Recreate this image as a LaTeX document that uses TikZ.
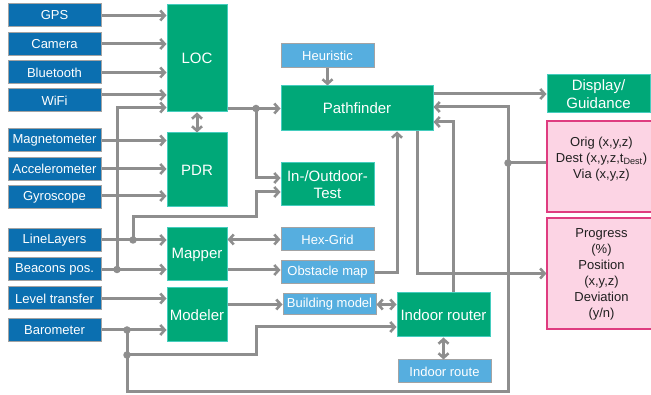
\documentclass[tikz,border=0pt]{standalone}
\usepackage{fontspec}
\setmainfont{Liberation Sans}
\usetikzlibrary{arrows.meta}
\definecolor{dblue}{HTML}{0B6FB0}
\definecolor{lblue}{HTML}{56AEDF}
\definecolor{grn}{HTML}{00A878}
\definecolor{grnb}{HTML}{45CDBE}
\definecolor{pinkf}{HTML}{FCD4E4}
\definecolor{pinkb}{HTML}{DF3C80}
\definecolor{lgray}{HTML}{8E8E8E}
\definecolor{bgray}{HTML}{A3A3A3}
\tikzset{
  base/.style={inner sep=0pt, align=center, text=white},
  dbox/.style={base, fill=dblue, draw=bgray, line width=1pt, minimum width=93pt, minimum height=23pt, font=\fontsize{13}{16}\selectfont},
  lbox/.style={base, fill=lblue, draw=bgray, line width=1pt, minimum width=93pt, minimum height=23pt, font=\fontsize{13}{16}\selectfont},
  gbox/.style={base, fill=grn, draw=grnb, line width=1pt, font=\fontsize{15}{17.5}\selectfont},
  pbox/.style={inner sep=0pt, fill=pinkf, draw=pinkb, line width=1.2pt},
  ptext/.style={inner sep=0pt, align=center, text=black!88, font=\fontsize{13}{16}\selectfont},
  conn/.style={draw=lgray, line width=3pt},
  arr/.style={conn, -{Straight Barb[length=4.5pt,width=10pt,line width=2.6pt]}},
  darr/.style={conn, {Straight Barb[length=4.5pt,width=10pt,line width=2.6pt]}-{Straight Barb[length=4.5pt,width=10pt,line width=2.6pt]}},
  jdot/.style={circle, fill=lgray, inner sep=0pt, minimum size=7.5pt},
}
\begin{document}
\begin{tikzpicture}[x=1pt,y=-1pt]
\useasboundingbox (0,0) rectangle (651,395);
\fill[white] (0,0) rectangle (651,395);
% left inputs
\node[dbox] (gps) at (54.5,15.5) {GPS};
\node[dbox] (cam) at (54.5,44) {Camera};
\node[dbox] (bt) at (54.5,72.5) {Bluetooth};
\node[dbox] (wifi) at (54.5,100.5) {WiFi};
\node[dbox] (mag) at (54.5,140.5) {Magnetometer};
\node[dbox] (acc) at (54.5,169) {Accelerometer};
\node[dbox] (gyr) at (54.5,197.5) {Gyroscope};
\node[dbox] (ll) at (54.5,240) {LineLayers};
\node[dbox] (bea) at (54.5,269.5) {Beacons pos.};
\node[dbox] (lev) at (54.5,298.5) {Level transfer};
\node[dbox] (bar) at (54.5,330) {Barometer};
% green
\node[gbox, minimum width=60pt, minimum height=107pt] (loc) at (197,58.5) {LOC};
\node[gbox, minimum width=60pt, minimum height=74pt] (pdr) at (197,170) {PDR};
\node[gbox, minimum width=60pt, minimum height=53pt] (map) at (197,254.5) {Mapper};
\node[gbox, minimum width=60pt, minimum height=54pt] (mod) at (197,315) {Modeler};
\node[gbox, minimum width=152pt, minimum height=45pt] (pf) at (357,108.5) {Pathfinder};
\node[gbox, minimum width=93pt, minimum height=43pt] (io) at (327.5,184.5) {In-/Outdoor-\\Test};
\node[gbox, minimum width=93pt, minimum height=44pt] (ir) at (443.5,315) {Indoor router};
\node[gbox, minimum width=103pt, minimum height=38pt] (disp) at (598.5,94) {Display/\\Guidance};
% light blue
\node[lbox, minimum height=24pt] (heu) at (327.5,56) {Heuristic};
\node[lbox] (hex) at (327.5,239.5) {Hex-Grid};
\node[lbox] (obs) at (327.5,272.5) {Obstacle map};
\node[lbox, minimum height=21pt] (bld) at (329.5,304.5) {Building model};
\node[lbox] (iroute) at (444.5,371.5) {Indoor route};
% pink
\node[pbox, minimum width=109pt, minimum height=91pt] (p1) at (601.5,166.5) {};
\node[ptext] (p1t) at (601.5,159) {Orig (x,y,z)\\Dest (x,y,z,t\textsubscript{Dest})\\Via (x,y,z)};
\node[pbox, minimum width=109pt, minimum height=111pt] (p2) at (601.5,273.5) {};
\node[ptext] (p2t) at (601.5,274.5) {Progress\\(\%)\\Position\\(x,y,z)\\Deviation\\(y/n)};
% junctions
\node[jdot] (jl) at (256,108.5) {};
\node[jdot] (jbea) at (117,269.5) {};
\node[jdot] (jll) at (133,240) {};
\node[jdot] (jb2) at (127,330) {};
\node[jdot] (jb3) at (127,355) {};
\node[jdot] (jp) at (508,163) {};
\coordinate (k1) at (256,327);
\coordinate (k2) at (508,392);
% connectors
\draw[arr] (gps.east) -- (gps.east -| loc.west);
\draw[arr] (cam.east) -- (cam.east -| loc.west);
\draw[arr] (bt.east) -- (bt.east -| loc.west);
\draw[arr] ([yshift=5.5pt]wifi.east) -- ([yshift=5.5pt]wifi.east -| loc.west);
\draw[arr] (bea.east) -- (bea.east -| map.west);
\draw[arr] (jbea.center) |- ([yshift=5pt]loc.south west);
\draw[arr] (mag.east) -- (mag.east -| pdr.west);
\draw[arr] (acc.east) -- (acc.east -| pdr.west);
\draw[arr] ([yshift=1.5pt]gyr.east) -- ([yshift=1.5pt]gyr.east -| pdr.west);
\draw[darr] (loc.south) -- (pdr.north);
\draw[arr] (loc.east |- pf.west) -- (pf.west);
\draw[arr] (jl.center) |- ([yshift=6.5pt]io.west);
\draw[arr] (ll.east) -- (ll.east -| map.west);
\draw[arr] (jll.center) |- (256,217) |- ([yshift=-7.5pt]io.west);
\draw[darr] (hex.west -| map.east) -- (hex.west);
\draw[arr] ([yshift=2.5pt]obs.west -| map.east) -- ([yshift=2.5pt]obs.west);
\draw[arr] (lev.east) -- (lev.east -| mod.west);
\draw[arr] (bld.west -| mod.east) -- (bld.west);
\draw[arr] (bar.east) -- (bar.east -| mod.west);
\draw[conn] (jb2.center) -- (jb3.center);
\draw[arr] (jb3.center) -| (k1) -- (k1 -| ir.west);
\draw[arr] (jb3.center) |- (k2) |- ([yshift=1.5pt]pf.east);
\draw[conn] (p1.west |- jp) -- (jp.center);
\draw[arr] (obs.east) -| ([xshift=40pt]pf.south);
\draw[arr] ([xshift=60pt]pf.south) |- (p2.west);
\draw[arr] ([xshift=9.5pt]ir.north) |- ([yshift=-13.5pt]pf.east);
\draw[darr] (bld.east) -- (bld.east -| ir.west);
\draw[darr] (ir.south) -- (ir.south |- iroute.north);
\draw[arr] (heu.south) -- (heu.south |- pf.north);
\draw[arr] (disp.west -| pf.east) -- (disp.west);
\end{tikzpicture}
\end{document}
